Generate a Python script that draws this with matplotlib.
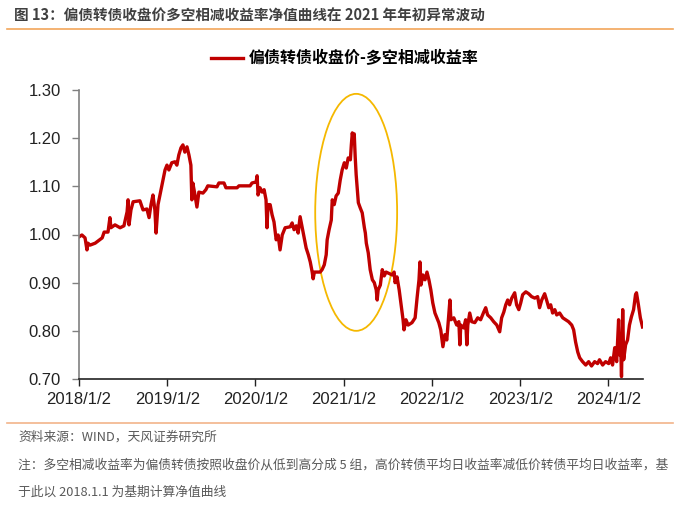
import matplotlib
matplotlib.use('Agg')
import matplotlib.pyplot as plt
import matplotlib.dates as mdates
from matplotlib.patches import Ellipse
import pandas as pd

plt.rcParams['font.family'] = ['Liberation Sans', 'Noto Sans CJK SC', 'DejaVu Sans']

# Net value curve
dates = ['2018-01-02', '2018-01-14', '2018-01-27', '2018-02-04', '2018-02-08', '2018-02-17', '2018-03-10',
         '2018-03-26', '2018-04-08', '2018-04-16', '2018-05-02', '2018-05-10', '2018-05-14', '2018-05-31',
         '2018-06-21', '2018-07-07', '2018-07-20', '2018-07-24', '2018-07-28', '2018-08-05', '2018-08-14',
         '2018-09-11', '2018-09-24', '2018-10-10', '2018-10-19', '2018-10-27', '2018-11-04', '2018-11-12',
         '2018-11-17', '2018-11-25', '2018-12-03', '2018-12-15', '2018-12-24', '2019-01-01', '2019-01-09',
         '2019-01-21', '2019-02-03', '2019-02-11', '2019-02-19', '2019-02-28', '2019-03-08', '2019-03-16',
         '2019-03-25', '2019-04-02', '2019-04-10', '2019-04-14', '2019-04-18', '2019-04-27', '2019-05-05',
         '2019-05-13', '2019-05-30', '2019-06-11', '2019-06-19', '2019-07-27', '2019-08-04', '2019-08-25',
         '2019-09-02', '2019-10-18', '2019-10-26', '2019-12-11', '2019-12-19', '2020-01-05', '2020-01-09',
         '2020-01-13', '2020-01-21', '2020-01-30', '2020-02-07', '2020-02-15', '2020-02-19', '2020-02-23',
         '2020-03-03', '2020-03-11', '2020-03-19', '2020-03-28', '2020-04-05', '2020-04-13', '2020-04-22',
         '2020-05-04', '2020-05-25', '2020-06-02', '2020-06-10', '2020-06-19', '2020-06-27', '2020-07-05',
         '2020-07-14', '2020-07-22', '2020-07-30', '2020-08-08', '2020-08-16', '2020-08-24', '2020-08-28',
         '2020-09-02', '2020-09-26', '2020-10-04', '2020-10-13', '2020-10-21', '2020-10-25', '2020-11-02',
         '2020-11-11', '2020-11-15', '2020-11-23', '2020-12-01', '2020-12-10', '2020-12-18', '2020-12-26',
         '2021-01-04', '2021-01-12', '2021-01-20', '2021-01-29', '2021-02-02', '2021-02-06', '2021-02-10',
         '2021-02-14', '2021-02-18', '2021-02-22', '2021-02-27', '2021-03-03', '2021-03-11', '2021-03-19',
         '2021-03-28', '2021-04-01', '2021-04-05', '2021-04-13', '2021-04-21', '2021-04-30', '2021-05-08',
         '2021-05-16', '2021-05-20', '2021-05-24', '2021-06-02', '2021-06-10', '2021-06-18', '2021-06-26',
         '2021-07-21', '2021-07-29', '2021-08-02', '2021-08-10', '2021-08-19', '2021-08-27', '2021-09-04',
         '2021-09-08', '2021-09-16', '2021-09-25', '2021-10-11', '2021-10-24', '2021-11-01', '2021-11-09',
         '2021-11-13', '2021-11-17', '2021-11-25', '2021-12-04', '2021-12-12', '2021-12-20', '2021-12-28',
         '2022-01-05', '2022-01-14', '2022-01-22', '2022-01-30', '2022-02-07', '2022-02-16', '2022-02-24',
         '2022-03-04', '2022-03-12', '2022-03-17', '2022-03-21', '2022-04-02', '2022-04-14', '2022-04-23',
         '2022-04-27', '2022-05-01', '2022-05-13', '2022-05-21', '2022-05-26', '2022-05-30', '2022-06-07',
         '2022-06-15', '2022-06-28', '2022-07-10', '2022-07-22', '2022-08-04', '2022-08-12', '2022-08-20',
         '2022-09-02', '2022-09-14', '2022-09-27', '2022-10-09', '2022-10-17', '2022-10-26', '2022-11-03',
         '2022-11-11', '2022-11-19', '2022-11-28', '2022-12-10', '2022-12-18', '2022-12-27', '2023-01-04',
         '2023-01-12', '2023-01-25', '2023-02-06', '2023-02-18', '2023-03-03', '2023-03-15', '2023-03-23',
         '2023-04-01', '2023-04-13', '2023-04-21', '2023-04-30', '2023-05-08', '2023-05-16', '2023-05-25',
         '2023-06-02', '2023-06-14', '2023-06-27', '2023-07-09', '2023-07-21', '2023-08-03', '2023-08-11',
         '2023-08-19', '2023-08-28', '2023-09-05', '2023-09-17', '2023-09-30', '2023-10-12', '2023-10-24',
         '2023-11-06', '2023-11-18', '2023-11-26', '2023-12-09', '2023-12-21', '2024-01-03', '2024-01-11',
         '2024-01-19', '2024-01-28', '2024-02-05', '2024-02-13', '2024-02-17', '2024-02-21', '2024-02-25',
         '2024-03-01', '2024-03-05', '2024-03-13', '2024-03-21', '2024-03-29', '2024-04-06', '2024-04-15',
         '2024-04-23', '2024-04-27', '2024-05-05', '2024-05-13', '2024-05-22']
values = [0.995, 0.999, 0.993, 0.968, 0.982, 0.978, 0.982,
          0.988, 0.993, 1.005, 1.005, 1.035, 1.014, 1.020,
          1.014, 1.018, 1.047, 1.072, 1.020, 1.051, 1.068,
          1.070, 1.051, 1.053, 1.035, 1.062, 1.082, 1.051,
          1.003, 1.062, 1.082, 1.113, 1.134, 1.144, 1.134,
          1.149, 1.151, 1.144, 1.165, 1.180, 1.186, 1.171,
          1.182, 1.165, 1.144, 1.072, 1.107, 1.082, 1.057,
          1.088, 1.086, 1.093, 1.101, 1.099, 1.107, 1.107,
          1.097, 1.097, 1.101, 1.101, 1.107, 1.109, 1.122,
          1.082, 1.097, 1.088, 1.093, 1.072, 1.014, 1.062,
          1.062, 1.041, 1.026, 0.989, 0.999, 0.968, 0.999,
          1.014, 1.016, 1.024, 1.010, 1.018, 1.003, 1.037,
          1.014, 0.993, 0.972, 0.958, 0.943, 0.922, 0.908,
          0.922, 0.922, 0.927, 0.937, 0.958, 0.989, 1.010,
          1.030, 1.072, 1.062, 1.080, 1.086, 1.113, 1.134,
          1.149, 1.138, 1.159, 1.155, 1.186, 1.211, 1.196,
          1.209, 1.161, 1.124, 1.093, 1.066, 1.055, 1.045,
          1.014, 1.003, 0.982, 0.962, 0.927, 0.906, 0.900,
          0.885, 0.864, 0.885, 0.895, 0.927, 0.914, 0.922,
          0.916, 0.922, 0.900, 0.912, 0.885, 0.854, 0.823,
          0.802, 0.823, 0.812, 0.817, 0.827, 0.868, 0.906,
          0.943, 0.895, 0.916, 0.906, 0.922, 0.906, 0.885,
          0.858, 0.837, 0.827, 0.817, 0.802, 0.767, 0.792,
          0.781, 0.833, 0.864, 0.823, 0.827, 0.812, 0.819,
          0.771, 0.812, 0.806, 0.823, 0.771, 0.812, 0.837,
          0.819, 0.817, 0.827, 0.823, 0.839, 0.848, 0.833,
          0.827, 0.819, 0.812, 0.798, 0.827, 0.839, 0.854,
          0.864, 0.854, 0.868, 0.879, 0.854, 0.844, 0.858,
          0.875, 0.881, 0.877, 0.871, 0.868, 0.871, 0.848,
          0.864, 0.877, 0.864, 0.848, 0.854, 0.837, 0.844,
          0.833, 0.837, 0.827, 0.823, 0.819, 0.812, 0.802,
          0.777, 0.756, 0.744, 0.736, 0.729, 0.736, 0.727,
          0.736, 0.732, 0.740, 0.729, 0.736, 0.732, 0.744,
          0.729, 0.765, 0.736, 0.823, 0.750, 0.781, 0.705,
          0.844, 0.740, 0.771, 0.781, 0.812, 0.829, 0.844,
          0.875, 0.879, 0.854, 0.827, 0.808]

series_label = '偏债转债收盘价-多空相减收益率'
tick_dates = ['2018-01-02', '2019-01-02', '2020-01-02', '2021-01-02', '2022-01-02', '2023-01-02', '2024-01-02']
tick_labels = ['2018/1/2', '2019/1/2', '2020/1/2', '2021/1/2', '2022/1/2', '2023/1/2', '2024/1/2']
y_ticks = [0.70, 0.80, 0.90, 1.00, 1.10, 1.20, 1.30]

title = '图 13：偏债转债收盘价多空相减收益率净值曲线在 2021 年年初异常波动'
source = '资料来源：WIND，天风证券研究所'
note1 = '注：多空相减收益率为偏债转债按照收盘价从低到高分成 5 组，高价转债平均日收益率减低价转债平均日收益率，基'
note2 = '于此以 2018.1.1 为基期计算净值曲线'

cjk = ['Noto Sans CJK SC', 'DejaVu Sans']

fig = plt.figure(figsize=(7, 5.11), dpi=100)
ax = fig.add_axes([79 / 700, 1 - 379 / 511, 564 / 700, 289 / 511])

d = pd.to_datetime(dates)
ax.plot(d, values, color='#C00000', lw=2.4, label=series_label)

ax.set_ylim(0.70, 1.30)
ax.set_xlim(pd.Timestamp('2018-01-02'), pd.Timestamp('2024-05-24'))
ax.set_yticks(y_ticks)
ax.set_yticklabels(['%.2f' % v for v in y_ticks])
ax.set_xticks(pd.to_datetime(tick_dates))
ax.set_xticklabels(tick_labels)
ax.tick_params(axis='both', labelsize=12, direction='out', length=5, width=1, colors='#222222')
ax.tick_params(axis='y', pad=8, color='#808080')
ax.tick_params(axis='x', pad=4)

for s in ['top', 'right']:
    ax.spines[s].set_visible(False)
ax.spines['left'].set_color('#808080')
ax.spines['left'].set_linewidth(1.2)
ax.spines['bottom'].set_color('#222222')
ax.spines['bottom'].set_linewidth(1.2)

# highlight of the early-2021 swing
ell = Ellipse((mdates.date2num(pd.Timestamp('2021-02-22')), 1.046), width=339, height=0.492,
              fill=False, edgecolor='#F5B800', lw=1.3)
ax.add_patch(ell)

leg = fig.legend(loc='center', bbox_to_anchor=(345 / 700, 1 - 58 / 511), frameon=False,
                 handlelength=2.0, handletextpad=0.35,
                 prop={'family': cjk, 'weight': 'bold', 'size': 11.5})

fig.text(14 / 700, 1 - 16 / 511, title, family=cjk, fontsize=10.5, fontweight='bold',
         color='#404040', va='center', ha='left')
fig.add_artist(plt.Line2D([7 / 700, 673 / 700], [1 - 29 / 511, 1 - 29 / 511], color='#F2A65A', lw=1.2))
fig.add_artist(plt.Line2D([7 / 700, 673 / 700], [1 - 423 / 511, 1 - 423 / 511], color='#F2B48A', lw=1.2))

fig.text(18 / 700, 1 - 437 / 511, source, family=cjk, fontsize=9.2, color='#595959', va='center', ha='left')
fig.text(18 / 700, 1 - 465 / 511, note1, family=cjk, fontsize=9.2, color='#595959', va='center', ha='left')
fig.text(18 / 700, 1 - 492 / 511, note2, family=cjk, fontsize=9.2, color='#595959', va='center', ha='left')

fig.savefig('out.png', dpi=100)
